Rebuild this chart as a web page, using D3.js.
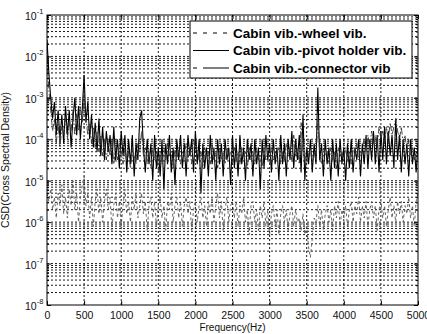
<!DOCTYPE html>
<html>
<head>
<meta charset="utf-8">
<script src="https://cdn.jsdelivr.net/npm/d3@7"></script>
<style>
  body { margin: 0; background: #fff; }
</style>
</head>
<body>
<div id="chart"></div>
<script>
// spectra, stored as log10 of CSD, one value every 25 Hz from 0 to 5000 Hz
var freqStep = 25;
var seriesNames = ['Cabin vib.-wheel vib.', 'Cabin vib.-pivot holder vib.', 'Cabin vib.-connector vib'];
var xTickValues = [0, 500, 1000, 1500, 2000, 2500, 3000, 3500, 4000, 4500, 5000];
var yExponents = [-1, -2, -3, -4, -5, -6, -7, -8];

var wheelLog = [
  -5.3, -5.5, -5.2, -5.7, -5.4, -5.9, -5.3, -5.6, -5.1, -5.8, -5.4,
  -5.9, -5.2, -5.6, -5.0, -5.7, -5.3, -6.0, -5.4, -5.1, -4.9,
  -5.6, -5.3, -5.9, -5.4, -6.1, -5.5, -5.2, -5.8, -5.4, -6.0,
  -5.5, -5.2, -5.7, -5.4, -6.2, -5.6, -5.3, -5.9, -5.5, -6.1,
  -5.6, -5.2, -5.8, -5.5, -6.0, -5.4, -5.7, -5.3, -5.9, -5.6,
  -5.3, -5.8, -5.5, -6.2, -5.6, -5.4, -5.9, -5.5, -6.1, -5.6,
  -5.4, -5.9, -5.6, -6.2, -5.5, -5.7, -5.3, -6.0, -5.6, -5.4,
  -5.9, -5.5, -6.1, -5.6, -5.4, -5.8, -5.5, -6.2, -5.7, -5.5,
  -6.0, -5.6, -5.4, -5.9, -5.6, -6.1, -5.5, -5.8, -5.4, -6.0,
  -5.6, -5.3, -5.9, -5.5, -6.2, -5.7, -5.4, -6.0, -5.6, -5.5,
  -5.9, -5.5, -6.1, -5.6, -5.8, -5.4, -6.0, -5.7, -6.3, -5.6,
  -5.5, -6.0, -5.7, -6.2, -5.6, -5.9, -5.5, -6.1, -5.7, -6.3,
  -5.8, -5.6, -6.1, -5.7, -6.3, -5.8, -5.6, -6.0, -5.7, -6.2,
  -5.8, -5.6, -6.1, -5.7, -6.0, -5.9, -6.2, -5.8, -6.3, -6.1,
  -6.6, -6.85, -6.4, -5.9, -6.0, -5.6, -6.1, -5.7, -6.2, -5.8,
  -5.6, -6.0, -5.7, -6.2, -5.6, -5.9, -5.5, -6.1, -5.7, -5.9,
  -5.6, -6.1, -5.7, -5.5, -6.0, -5.6, -5.8, -5.4, -6.0, -5.6,
  -5.9, -5.5, -6.1, -5.7, -5.5, -5.9, -5.6, -6.2, -5.7, -5.5,
  -5.9, -5.6, -6.1, -5.7, -5.4, -5.9, -5.6, -6.0, -5.5, -5.8,
  -5.5, -6.0, -5.6, -5.8, -5.4, -5.9, -5.6, -6.1, -5.5, -5.3
];

var pivotLog = [
  -1.6, -2.4, -3.0, -3.5, -3.1, -3.9, -3.3, -4.0, -3.4, -4.1, -3.2,
  -3.9, -3.3, -4.2, -3.5, -3.0, -3.9, -3.2, -4.0, -3.3, -2.45,
  -3.6, -3.1, -4.0, -3.4, -4.2, -3.6, -4.3, -3.5, -4.4, -3.7,
  -4.5, -3.8, -4.3, -3.9, -4.6, -3.7, -4.5, -4.0, -4.7, -3.8,
  -4.4, -3.9, -4.8, -4.0, -4.6, -3.9, -4.9, -4.1, -4.5, -3.5,
  -3.3, -4.2, -4.8, -4.0, -4.6, -4.1, -5.0, -3.9, -4.7, -4.2,
  -4.9, -4.0, -5.2, -4.1, -4.6, -3.9, -4.8, -4.2, -5.1, -4.0,
  -4.5, -3.9, -4.7, -4.1, -4.9, -3.9, -4.4, -4.0, -4.8, -3.8,
  -4.6, -4.0, -5.3, -4.1, -4.7, -4.2, -4.9, -3.9, -4.6, -4.2,
  -5.0, -4.0, -4.6, -4.1, -4.9, -4.0, -4.5, -4.2, -5.1, -3.9,
  -4.7, -4.1, -4.9, -3.9, -4.6, -4.2, -5.0, -4.0, -4.5, -4.1,
  -4.9, -4.0, -4.6, -4.2, -5.2, -4.0, -4.7, -3.9, -4.5, -4.1,
  -4.8, -4.0, -4.6, -4.2, -5.0, -3.9, -4.6, -4.1, -4.9, -4.0,
  -4.5, -3.8, -4.7, -4.0, -4.5, -3.9, -4.8, -3.4, -5.0, -4.2,
  -4.6, -4.0, -4.8, -4.1, -4.6, -2.75, -4.5, -4.1, -4.9, -4.0,
  -4.6, -4.2, -5.0, -4.0, -4.7, -4.1, -4.9, -4.0, -4.6, -4.2,
  -5.0, -4.1, -4.7, -4.0, -4.8, -4.2, -4.5, -4.0, -4.9, -4.1,
  -4.6, -3.9, -4.7, -4.0, -4.5, -3.8, -4.6, -3.9, -4.8, -3.8,
  -4.5, -3.7, -4.6, -3.8, -4.4, -3.9, -4.7, -3.5, -4.5, -3.9,
  -4.8, -4.0, -4.6, -4.1, -4.9, -4.0, -4.6, -4.2, -4.8, -4.1
];

var connectorLog = [
  -2.0, -2.8, -3.3, -3.8, -3.5, -4.1, -3.6, -4.2, -3.7, -3.9, -3.5,
  -4.0, -3.6, -3.8, -3.3, -3.9, -3.4, -3.8, -3.2, -3.6, -2.9,
  -3.5, -3.9, -3.6, -4.1, -3.7, -4.2, -3.8, -4.3, -3.9, -4.4,
  -4.0, -4.5, -4.1, -4.4, -4.0, -4.6, -4.2, -4.5, -4.1, -4.3,
  -4.6, -4.2, -4.5, -4.3, -4.7, -4.2, -4.4, -4.6, -4.1, -4.3,
  -3.8, -4.4, -4.2, -4.6, -4.3, -4.7, -4.2, -4.5, -4.3, -4.8,
  -4.3, -4.6, -4.2, -4.5, -4.1, -4.4, -4.3, -4.7, -4.2, -4.5,
  -4.2, -4.6, -4.3, -4.4, -4.1, -4.5, -4.2, -4.6, -4.0, -4.3,
  -4.2, -4.5, -4.3, -4.7, -4.2, -4.4, -4.3, -4.6, -4.1, -4.5,
  -4.3, -4.7, -4.2, -4.5, -4.3, -4.6, -4.2, -4.4, -4.3, -4.6,
  -4.2, -4.5, -4.3, -4.6, -4.2, -4.4, -4.3, -4.7, -4.2, -4.5,
  -4.3, -4.6, -4.2, -4.5, -4.4, -4.7, -4.2, -4.5, -4.3, -4.6,
  -4.2, -4.5, -4.3, -4.4, -4.2, -4.6, -4.3, -4.5, -4.1, -4.4,
  -4.2, -4.5, -3.9, -4.4, -4.2, -4.6, -3.6, -4.3, -4.5, -4.2,
  -4.4, -4.2, -4.6, -4.3, -4.5, -3.5, -4.3, -4.6, -4.2, -4.4,
  -4.3, -4.6, -4.2, -4.5, -4.3, -4.7, -4.2, -4.4, -4.3, -4.5,
  -4.2, -4.5, -4.3, -4.6, -4.2, -4.4, -4.1, -4.5, -4.3, -4.2,
  -4.0, -4.3, -3.9, -4.2, -3.8, -4.1, -3.9, -4.2, -3.7, -4.0,
  -3.8, -4.1, -3.7, -4.0, -3.6, -3.9, -3.7, -3.5, -3.8, -4.0,
  -3.7, -4.1, -3.9, -4.3, -4.0, -4.4, -4.2, -4.5, -4.3, -4.4
];

var width = 427, height = 334;
var margin = {top: 15, right: 9, bottom: 29, left: 47};

var svg = d3.select('#chart').append('svg')
  .attr('width', width)
  .attr('height', height)
  .attr('font-family', 'Liberation Sans, Arial, sans-serif');

var x = d3.scaleLinear()
  .domain([0, 5000])
  .range([margin.left, width - margin.right]);

var y = d3.scaleLog()
  .domain([1e-8, 1e-1])
  .range([height - margin.bottom, margin.top]);

var toPoints = arr => arr.map((v, i) => ({f: i * freqStep, v: Math.pow(10, v)}));
var series = [
  {name: seriesNames[0], data: toPoints(wheelLog), dash: '3,2.5', color: '#555', w: 0.9},
  {name: seriesNames[1], data: toPoints(pivotLog), dash: null, color: '#000', w: 1.1},
  {name: seriesNames[2], data: toPoints(connectorLog), dash: '7,2,1.5,2', color: '#333', w: 0.9}
];

// grid (matlab style dotted)
var grid = svg.append('g')
  .attr('stroke', '#000')
  .attr('stroke-width', 0.9)
  .attr('stroke-dasharray', '2,2');

grid.selectAll('line.gx')
  .data(xTickValues.slice(1, -1))
  .join('line')
  .attr('class', 'gx')
  .attr('x1', d => x(d)).attr('x2', d => x(d))
  .attr('y1', margin.top).attr('y2', height - margin.bottom);

var yMinor = y.ticks().filter(d => d > 1e-8 && d < 1e-1);
grid.selectAll('line.gy')
  .data(yMinor)
  .join('line')
  .attr('class', 'gy')
  .attr('x1', margin.left).attr('x2', width - margin.right)
  .attr('y1', d => y(d)).attr('y2', d => y(d));

// data lines
svg.append('clipPath').attr('id', 'clip')
  .append('rect')
  .attr('x', margin.left).attr('y', margin.top)
  .attr('width', width - margin.left - margin.right)
  .attr('height', height - margin.top - margin.bottom);

var line = d3.line()
  .x(d => x(d.f))
  .y(d => y(d.v));

svg.append('g')
  .attr('clip-path', 'url(#clip)')
  .selectAll('path')
  .data(series)
  .join('path')
  .attr('fill', 'none')
  .attr('stroke', d => d.color)
  .attr('stroke-width', d => d.w)
  .attr('stroke-dasharray', d => d.dash)
  .attr('d', d => line(d.data));

// axes with inward ticks
var xAxis = g => g
  .attr('transform', `translate(0,${height - margin.bottom})`)
  .call(d3.axisBottom(x).tickValues(xTickValues).tickSize(-4).tickPadding(7).tickFormat(d3.format('d')))
  .call(g => g.select('.domain').remove())
  .call(g => g.selectAll('.tick text')
    .attr('font-size', '10.5px')
    .attr('fill', '#111'));

svg.append('g').call(xAxis);

svg.append('g')
  .attr('transform', `translate(0,${margin.top})`)
  .call(d3.axisTop(x).tickValues(xTickValues).tickSize(-4).tickFormat(''))
  .call(g => g.select('.domain').remove());

var yAxis = g => g
  .attr('transform', `translate(${margin.left},0)`)
  .call(d3.axisLeft(y).tickValues(y.ticks()).tickSize(-2).tickFormat(''))
  .call(g => g.select('.domain').remove())
  .call(g => g.selectAll('.tick line')
    .attr('x2', d => Math.abs(Math.log10(d) - Math.round(Math.log10(d))) < 1e-6 ? 4 : 2));

svg.append('g').call(yAxis);

svg.append('g')
  .attr('transform', `translate(${width - margin.right},0)`)
  .call(d3.axisRight(y).tickValues(y.ticks()).tickSize(-2).tickFormat(''))
  .call(g => g.select('.domain').remove())
  .call(g => g.selectAll('.tick line')
    .attr('x2', d => Math.abs(Math.log10(d) - Math.round(Math.log10(d))) < 1e-6 ? -4 : -2));

// y tick labels 10^n
var yLab = svg.append('g')
  .selectAll('text')
  .data(yExponents)
  .join('text')
  .attr('x', 25)
  .attr('y', d => y(Math.pow(10, d)) + 5)
  .attr('font-size', '10.5px')
  .attr('fill', '#111');
yLab.append('tspan').text('10');
yLab.append('tspan')
  .attr('dy', -6)
  .attr('font-size', '7.5px')
  .text(d => String(d));

// frame
svg.append('rect')
  .attr('x', margin.left).attr('y', margin.top)
  .attr('width', width - margin.left - margin.right)
  .attr('height', height - margin.top - margin.bottom)
  .attr('fill', 'none')
  .attr('stroke', '#000')
  .attr('stroke-width', 1);

// axis titles
svg.append('text')
  .attr('x', (margin.left + width - margin.right) / 2)
  .attr('y', height - 3)
  .attr('text-anchor', 'middle')
  .attr('font-size', '10px')
  .attr('fill', '#111')
  .text('Frequency(Hz)');

svg.append('text')
  .attr('transform', `translate(9,${(margin.top + height - margin.bottom) / 2}) rotate(-90)`)
  .attr('text-anchor', 'middle')
  .attr('font-size', '10.5px')
  .attr('fill', '#111')
  .text('CSD(Cross Spectral Density)');

// legend
var legend = svg.append('g');
legend.append('rect')
  .attr('x', 190).attr('y', 21)
  .attr('width', 222).attr('height', 57)
  .attr('fill', '#fff')
  .attr('stroke', '#000')
  .attr('stroke-width', 1);

var rows = legend.selectAll('g.row')
  .data(series)
  .join('g')
  .attr('class', 'row')
  .attr('transform', (d, i) => `translate(0,${33 + i * 17.5})`);

rows.append('line')
  .attr('x1', 193).attr('x2', 229)
  .attr('stroke', '#000')
  .attr('stroke-width', 1)
  .attr('stroke-dasharray', (d, i) => i === 0 ? '4,6' : i === 2 ? '4,6,30' : null);

rows.append('text')
  .attr('x', 233)
  .attr('dy', '0.36em')
  .attr('font-size', '13.5px')
  .attr('font-weight', 'bold')
  .attr('fill', '#000')
  .text(d => d.name);
</script>
</body>
</html>
